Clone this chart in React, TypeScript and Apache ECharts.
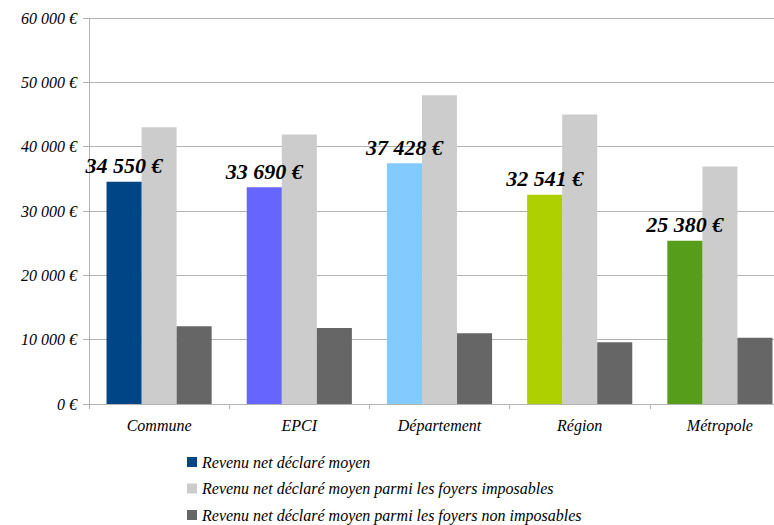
import React, { useEffect, useRef } from "react";
import * as echarts from "echarts";

const categories = ["Commune", "EPCI", "Département", "Région", "Métropole"];
const seriesNames = [
  "Revenu net déclaré moyen",
  "Revenu net déclaré moyen parmi les foyers imposables",
  "Revenu net déclaré moyen parmi les foyers non imposables",
];
const revenuMoyen = [34550, 33690, 37428, 32541, 25380];
const revenuImposables = [43000, 41900, 48000, 45000, 36900];
const revenuNonImposables = [12100, 11800, 11000, 9600, 10300];
const moyenColors = ["#004586", "#6666ff", "#83caff", "#aecf00", "#579d1c"];
const seriesColors = ["#004586", "#cccccc", "#666666"];

const fmt = (v: number) =>
  String(Math.round(v)).replace(/\B(?=(\d{3})+(?!\d))/g, " ") + " €";

const FONT = "'Liberation Serif', 'DejaVu Serif', serif";

export default function App() {
  const ref = useRef<HTMLDivElement>(null);
  useEffect(() => {
    if (!ref.current) return;
    const chart = echarts.init(ref.current, null, { renderer: "svg" });
    const legendText = { fontFamily: FONT, fontStyle: "italic", fontSize: 16, color: "#000" };
    chart.setOption({
      animation: false,
      backgroundColor: "#ffffff",
      grid: { left: 89, top: 18, height: 386, width: 701, containLabel: false },
      legend: seriesNames.map((name, i) => ({
        orient: "vertical",
        left: 182,
        top: 449 + i * 26.5,
        itemWidth: 10,
        itemHeight: 10,
        itemGap: 6,
        icon: "rect",
        textStyle: legendText,
        data: [{ name, itemStyle: { color: seriesColors[i] } }],
      })),
      xAxis: {
        type: "category",
        data: categories,
        axisLine: { lineStyle: { color: "#b3b3b3" } },
        axisTick: { show: true, alignWithLabel: false, length: 5, lineStyle: { color: "#b3b3b3" } },
        axisLabel: {
          fontFamily: FONT,
          fontStyle: "italic",
          fontSize: 16,
          color: "#000",
          margin: 13,
        },
      },
      yAxis: {
        type: "value",
        min: 0,
        max: 60000,
        interval: 10000,
        axisLine: { show: true, lineStyle: { color: "#b3b3b3" } },
        axisTick: { show: true, length: 6, lineStyle: { color: "#b3b3b3" } },
        splitLine: { lineStyle: { color: "#b3b3b3" } },
        axisLabel: {
          fontFamily: FONT,
          fontStyle: "italic",
          fontSize: 16,
          color: "#000",
          margin: 12,
          formatter: (v: number) => fmt(v),
        },
      },
      series: [
        {
          name: seriesNames[0],
          type: "bar",
          barGap: "0%",
          barCategoryGap: "25%",
          data: revenuMoyen.map((v, i) => ({ value: v, itemStyle: { color: moyenColors[i] } })),
          itemStyle: { color: seriesColors[0] },
          label: {
            show: true,
            position: "top",
            distance: 5,
            fontFamily: FONT,
            fontStyle: "italic",
            fontWeight: "bold",
            fontSize: 22,
            color: "#000",
            formatter: (p: any) => fmt(p.value),
          },
          z: 3,
        },
        {
          name: seriesNames[1],
          type: "bar",
          barGap: "0%",
          data: revenuImposables,
          itemStyle: { color: seriesColors[1] },
          z: 2,
        },
        {
          name: seriesNames[2],
          type: "bar",
          barGap: "0%",
          data: revenuNonImposables,
          itemStyle: { color: seriesColors[2] },
          z: 2,
        },
      ],
    });
    return () => chart.dispose();
  }, []);
  return (
    <div
      style={{
        position: "fixed",
        left: 0,
        top: 0,
        width: 774,
        height: 525,
        overflow: "hidden",
        background: "#fff",
      }}
    >
      <div ref={ref} style={{ width: 800, height: 525 }} />
    </div>
  );
}
